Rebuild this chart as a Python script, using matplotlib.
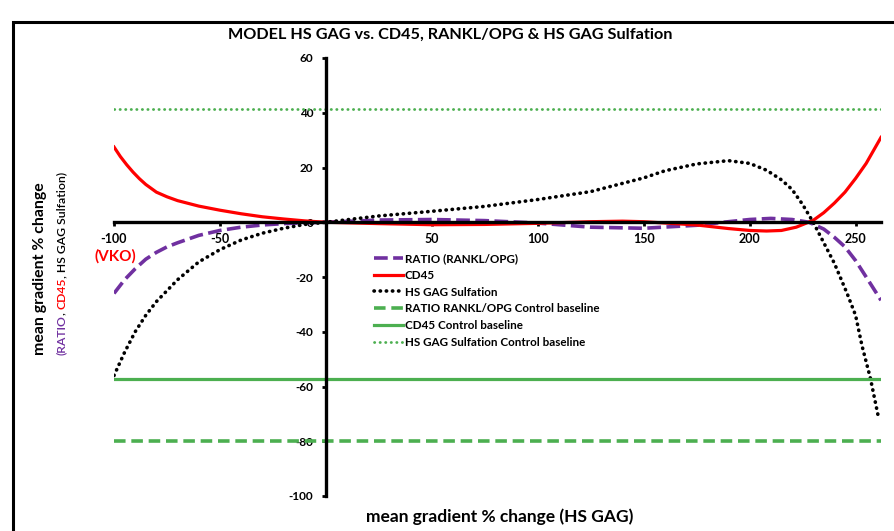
import matplotlib.pyplot as plt
from matplotlib.patches import Rectangle

# mean gradient % change (HS GAG) sample points and fitted responses
ratio_x = [-100, -95, -90, -85, -80, -75, -70, -60, -50, -40, -30, -20, -10, 0,
           25, 50, 75, 100, 125, 150, 175, 190, 200, 210, 220, 228, 235, 240,
           245, 250, 255, 262]
ratio_y = [-26, -21, -17, -13.5, -11, -9, -7.5, -4.8, -3, -1.8, -1, -0.5, -0.2, 0,
           0.8, 1, 0.6, -0.3, -1.8, -2.2, -1.1, 0.2, 1, 1.4, 1, 0, -2.5, -5.5,
           -9, -14, -20, -28.5]

cd45_x = [-100, -97, -94, -91, -88, -85, -80, -75, -70, -60, -50, -40, -30, -20,
          -10, 0, 25, 50, 75, 100, 125, 140, 150, 175, 190, 200, 208, 215, 222,
          230, 235, 240, 245, 250, 255, 262]
cd45_y = [27.5, 24, 21, 18.3, 15.9, 13.8, 11, 9.3, 7.9, 5.9, 4.4, 3.1, 2, 1.2,
          0.5, 0, -0.5, -0.9, -0.8, -0.4, 0.2, 0.4, 0.2, -1, -2.3, -3, -3.2, -3,
          -1.8, 0.7, 3.5, 7, 11, 16, 21.5, 31]

hsgag_x = [-100, -95, -90, -85, -80, -75, -70, -60, -50, -40, -30, -20, -10, 0,
           25, 50, 75, 100, 125, 150, 160, 175, 190, 200, 208, 215, 220, 225,
           230, 236, 240, 246, 250, 253, 257, 261]
hsgag_y = [-56, -47.5, -40, -34, -29, -25, -21, -14.5, -10, -6.5, -4, -2.2, -0.8, 0,
           2.3, 4, 5.8, 8.3, 11.2, 16.2, 18.8, 21.3, 22.5, 21.5, 19, 15.5, 12, 6.5,
           0, -9, -15, -26, -34, -45, -57, -72]

# control baselines
ratio_base = -80
cd45_base = -57.3
hsgag_base = 41.5

x_ticks = [-100, -50, 50, 100, 150, 200, 250]
y_ticks = [-100, -80, -60, -40, -20, 0, 20, 40, 60]

plt.rcParams['font.family'] = ['Lato', 'DejaVu Sans']

purple = '#7030A0'
red = '#FF0000'
green = '#4CAF50'

fig = plt.figure(figsize=(8.95, 5.31), dpi=100)
ax = fig.add_axes([114 / 895, 1 - 496 / 531, (881 - 114) / 895, (496 - 58) / 531])

ax.plot(ratio_x, ratio_y, color=purple, lw=2.6, ls=(0, (3.8, 1.5)), label='RATIO (RANKL/OPG)')
ax.plot(cd45_x, cd45_y, color=red, lw=2.3, label='CD45')
ax.plot(hsgag_x, hsgag_y, color='black', lw=2.6, ls=(0, (0.1, 1.6)),
        dash_capstyle='round', label='HS GAG Sulfation')
ax.axhline(ratio_base, color=green, lw=2.6, ls=(0, (3.2, 1.6)),
           label='RATIO RANKL/OPG Control baseline')
ax.axhline(cd45_base, color=green, lw=2.3, label='CD45 Control baseline')
ax.axhline(hsgag_base, color=green, lw=2.0, ls=(0, (0.1, 1.9)),
           dash_capstyle='round', label='HS GAG Sulfation Control baseline')

ax.set_xlim(-100, 262)
ax.set_ylim(-100, 60)

# axes cross at the origin
ax.spines['left'].set_position(('data', 0))
ax.spines['bottom'].set_position(('data', 0))
ax.spines['top'].set_visible(False)
ax.spines['right'].set_visible(False)
ax.spines['left'].set_linewidth(2.4)
ax.spines['bottom'].set_linewidth(2.4)

ax.set_xticks(x_ticks)
ax.set_yticks(y_ticks)
ax.set_xticklabels([str(v) for v in x_ticks])
ax.set_yticklabels([str(v) for v in y_ticks])
ax.tick_params(axis='x', direction='out', length=3, width=2, pad=5, labelsize=9)
ax.tick_params(axis='y', direction='out', length=3, width=2, pad=6, labelsize=8.5)
for lbl in ax.get_xticklabels() + ax.get_yticklabels():
    lbl.set_fontweight('bold')

ax.text(-99.5, -12.3, '(VKO)', color=red, fontsize=11, fontweight='bold',
        ha='center', va='center')

leg = ax.legend(loc='upper left', bbox_to_anchor=(368 / 895, 1 - 247 / 531),
                bbox_transform=fig.transFigure, frameon=False, fontsize=8.4,
                handlelength=2.5, handletextpad=0.15, labelspacing=0.5,
                borderpad=0)
for t in leg.get_texts():
    t.set_fontweight('bold')

fig.text(450 / 895, 1 - 35 / 531, 'MODEL HS GAG vs. CD45, RANKL/OPG & HS GAG Sulfation',
         ha='center', va='center', fontsize=11.7, fontweight='bold')
fig.text(500 / 895, 1 - 517 / 531, 'mean gradient % change (HS GAG)',
         ha='center', va='center', fontsize=12.5, fontweight='bold')

fig.text(40 / 895, 1 - 269 / 531, 'mean gradient % change', rotation=90,
         ha='center', va='center', fontsize=11.4, fontweight='bold')

# second y label line in coloured pieces, each starting where the last ended
pieces = [('(RATIO', purple), (', ', 'black'), ('CD45', red),
          (', HS GAG Sulfation)', 'black')]
renderer = fig.canvas.get_renderer()
y_pos = 1 - 355 / 531
for txt, col in pieces:
    t = fig.text(65 / 895, y_pos, txt, rotation=90, rotation_mode='anchor',
                 ha='left', va='baseline', fontsize=8.8, fontweight='semibold',
                 color=col)
    bb = t.get_window_extent(renderer)
    y_pos += bb.height / fig.bbox.height

# outer chart frame
fig.patches.append(Rectangle((13 / 895, -0.05), 1.0, 1 - 22 / 531 + 0.05,
                             transform=fig.transFigure, fill=False,
                             edgecolor='black', lw=2.2))

fig.savefig('out.png', dpi=100)
